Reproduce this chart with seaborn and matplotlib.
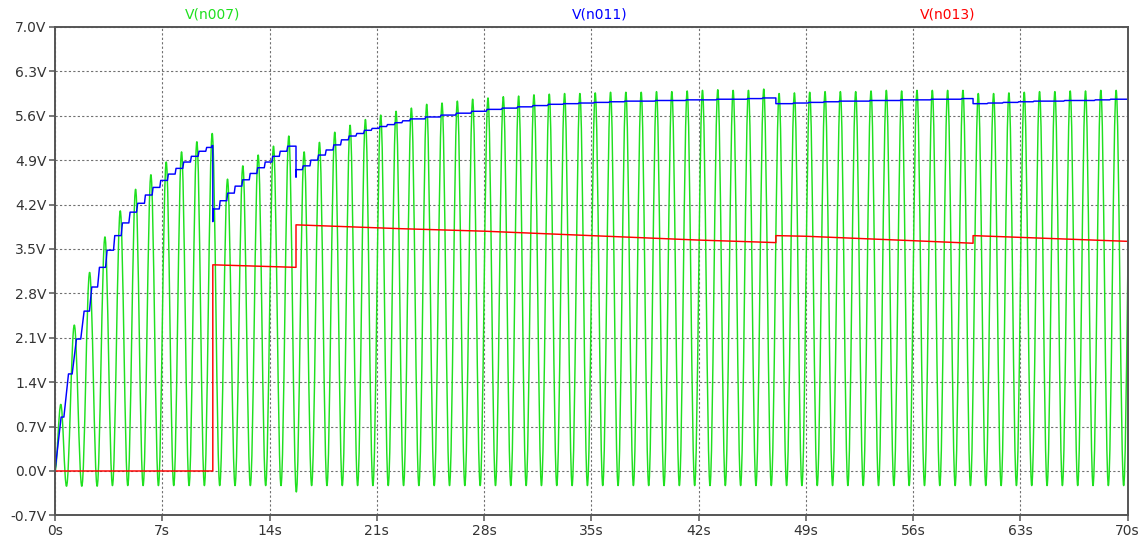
import numpy as np
import pandas as pd
import seaborn as sns
import matplotlib
matplotlib.use("Agg")
import matplotlib.pyplot as plt
from matplotlib.path import Path
from matplotlib.patches import PathPatch

# ---------------- data ----------------
# V(n007): per-cycle peak / trough values of the 1 Hz oscillation
green_peak_t = [0.38] + [n + 0.26 for n in range(1, 70)]
green_trough_t = [n + 0.75 for n in range(70)]
green_peak_v = [1.05, 2.30, 3.13, 3.69, 4.10, 4.44, 4.67, 4.87, 5.03, 5.19,
                5.32, 4.60, 4.81, 4.98, 5.12, 5.28, 5.03, 5.18, 5.34, 5.45,
                5.54, 5.61, 5.67, 5.72, 5.78, 5.80, 5.83, 5.86, 5.88, 5.90,
                5.91, 5.93, 5.94, 5.95, 5.95, 5.96, 5.97, 5.97, 5.97, 5.98,
                5.98, 5.99, 6.00, 6.01, 6.00, 6.00, 6.02, 5.95, 5.96, 5.97,
                5.98, 5.98, 5.98, 5.99, 6.00, 5.99, 6.00, 6.00, 6.00, 6.00,
                5.95, 5.95, 5.96, 5.97, 5.98, 5.98, 5.99, 5.99, 6.00, 6.00]
green_trough_v = [-0.24, -0.24, -0.24, -0.23, -0.23, -0.23, -0.23, -0.23, -0.23, -0.23,
                  -0.23, -0.23, -0.23, -0.23, -0.23, -0.33, -0.23, -0.23, -0.23, -0.23,
                  -0.23, -0.23, -0.23, -0.23, -0.23, -0.23, -0.23, -0.23, -0.23, -0.23,
                  -0.23, -0.23, -0.23, -0.23, -0.23, -0.23, -0.23, -0.23, -0.23, -0.23,
                  -0.23, -0.23, -0.23, -0.23, -0.23, -0.23, -0.23, -0.23, -0.23, -0.23,
                  -0.23, -0.23, -0.23, -0.23, -0.23, -0.23, -0.23, -0.23, -0.23, -0.23,
                  -0.23, -0.23, -0.23, -0.23, -0.23, -0.23, -0.23, -0.23, -0.23, -0.23]
green_start = (0.0, 0.0)
green_next_peak = (70.26, 6.00)   # the following peak, beyond the right edge

# V(n011): staircase (time a step completes, value after it, rise duration)
blue_t = [0.40, 0.88, 1.40, 1.90, 2.40, 2.90, 3.40, 3.90, 4.40, 4.90,
          5.40, 5.90, 6.40, 6.90, 7.40, 7.90, 8.40, 8.90, 9.40, 9.90,
          10.25, 10.30, 10.32,
          10.78, 11.27, 11.76, 12.25, 12.74, 13.23, 13.72, 14.21, 14.70, 15.19,
          15.73, 15.75,
          16.20, 16.70, 17.20, 17.70, 18.20, 18.70, 19.20, 19.70, 20.20, 20.70,
          21.20, 21.70, 22.20, 22.70,
          23.2, 24.2, 25.2, 26.2, 27.2, 28.2, 29.2, 30.2, 31.2, 32.2, 33.2, 34.2,
          35.2, 36.2, 37.2, 38.2, 39.2, 40.2, 41.2, 42.2, 43.2, 44.2, 45.2, 46.2,
          47.05,
          48.2, 49.2, 50.2, 51.2, 52.2, 53.2, 54.2, 55.2, 56.2, 57.2, 58.2, 59.2,
          59.92,
          60.9, 61.9, 62.9, 63.9, 64.9, 65.9, 66.9, 67.9, 68.9, 69.9]
blue_v = [0.85, 1.53, 2.08, 2.52, 2.90, 3.21, 3.48, 3.71, 3.91, 4.08,
          4.22, 4.35, 4.47, 4.58, 4.68, 4.77, 4.87, 4.96, 5.04, 5.10,
          5.13, 3.93, 4.13,
          4.26, 4.38, 4.49, 4.59, 4.69, 4.78, 4.87, 4.96, 5.04, 5.12,
          4.63, 4.75,
          4.81, 4.90, 4.98, 5.06, 5.14, 5.22, 5.28, 5.32, 5.37, 5.40,
          5.43, 5.46, 5.49, 5.52,
          5.55, 5.58, 5.61, 5.64, 5.67, 5.70, 5.72, 5.74, 5.76, 5.78, 5.79, 5.80,
          5.81, 5.82, 5.83, 5.83, 5.84, 5.84, 5.85, 5.85, 5.86, 5.86, 5.87, 5.88,
          5.79,
          5.80, 5.81, 5.82, 5.83, 5.83, 5.84, 5.84, 5.85, 5.85, 5.86, 5.86, 5.87,
          5.79,
          5.80, 5.81, 5.82, 5.83, 5.83, 5.84, 5.84, 5.85, 5.86, 5.86]
blue_rise = [0.40, 0.30, 0.28, 0.22, 0.15, 0.12, 0.10, 0.08, 0.08, 0.08,
             0.08, 0.06, 0.06, 0.06, 0.06, 0.06, 0.06, 0.06, 0.06, 0.06,
             0.03, 0.00, 0.02] + [0.06] * 10 + [0.00, 0.02] + [0.06] * 38 + [0.00] + [0.06] * 12 + [0.00] + [0.06] * 10

# V(n013): piecewise level
red_t = [0.0, 10.30, 10.30, 15.73, 15.73, 22.5, 28.0, 35.0, 42.0, 47.05, 47.05,
         49.0, 56.0, 59.92, 59.92, 70.0]
red_v = [0.0, 0.0, 3.25, 3.21, 3.88, 3.82, 3.78, 3.71, 3.64, 3.60, 3.71,
         3.70, 3.63, 3.59, 3.71, 3.62]

x_ticks = [0, 7, 14, 21, 28, 35, 42, 49, 56, 63, 70]
y_ticks = [-0.7, 0.0, 0.7, 1.4, 2.1, 2.8, 3.5, 4.2, 4.9, 5.6, 6.3, 7.0]
series_names = ["V(n007)", "V(n011)", "V(n013)"]

GREEN = "#1fe01f"
BLUE = "#0000ff"
RED = "#ff0000"
AXC = "#555555"

# ---------------- figure ----------------
sns.set_theme(style="white")
plt.rcParams["font.family"] = ["DejaVu Sans"]

fig = plt.figure(figsize=(11.45, 5.44), dpi=100)
W, H = 1145, 544
x0, x1, y0, y1 = 55, 1127.5, 26.9, 515.4
ax = fig.add_axes([x0 / W, 1 - y1 / H, (x1 - x0) / W, (y1 - y0) / H])
ax.set_facecolor("white")

# green trace: smooth half-cycles between successive extremes (Bezier curves)
ext_t = [green_start[0]]
ext_v = [green_start[1]]
for pt, pv, tt, tv in zip(green_peak_t, green_peak_v, green_trough_t, green_trough_v):
    ext_t += [pt, tt]
    ext_v += [pv, tv]
ext_t.append(green_next_peak[0])
ext_v.append(green_next_peak[1])
a = 0.364
verts = [(ext_t[0], ext_v[0])]
codes = [Path.MOVETO]
for i in range(len(ext_t) - 1):
    ta, va, tb, vb = ext_t[i], ext_v[i], ext_t[i + 1], ext_v[i + 1]
    d = tb - ta
    verts += [(ta + a * d, va), (tb - a * d, vb), (tb, vb)]
    codes += [Path.CURVE4] * 3
ax.add_patch(PathPatch(Path(verts, codes), fill=False, edgecolor=GREEN,
                       lw=1.05, zorder=2, joinstyle="round"))

# blue staircase
bx, by = [0.0], [0.0]
for t, v, r in zip(blue_t, blue_v, blue_rise):
    bx += [t - r, t]
    by += [by[-1], v]
bx.append(70.0)
by.append(by[-1])
blue_df = pd.DataFrame({"t": bx, "v": by})
sns.lineplot(data=blue_df, x="t", y="v", ax=ax, color=BLUE, lw=1.05,
             sort=False, estimator=None, zorder=3)

red_df = pd.DataFrame({"t": red_t, "v": red_v})
sns.lineplot(data=red_df, x="t", y="v", ax=ax, color=RED, lw=1.05,
             sort=False, estimator=None, zorder=3)

ax.set_xlim(0, 70)
ax.set_ylim(-0.7, 7.0)
ax.set_xlabel("")
ax.set_ylabel("")
ax.set_xticks(x_ticks)
ax.set_xticklabels([f"{v}s" for v in x_ticks])
ax.set_yticks(y_ticks)
ax.set_yticklabels([f"{v:.1f}V" for v in y_ticks])

ax.grid(True, color="#707070", linestyle=(0, (2, 2)), linewidth=0.8)
ax.tick_params(axis="both", which="major", direction="out", length=4,
               width=1.1, color=AXC, labelsize=10, labelcolor="#333333", pad=2,
               left=True, bottom=True)
for s in ax.spines.values():
    s.set_visible(True)
    s.set_color(AXC)
    s.set_linewidth(1.4)
    s.set_zorder(5)

for name, xf, col in zip(series_names, [0.1473, 0.508, 0.8326], [GREEN, BLUE, RED]):
    ax.text(xf, 1.0246, name, transform=ax.transAxes, ha="center", va="center",
            color=col, fontsize=10)

fig.savefig("out.png", dpi=100, facecolor="white")
